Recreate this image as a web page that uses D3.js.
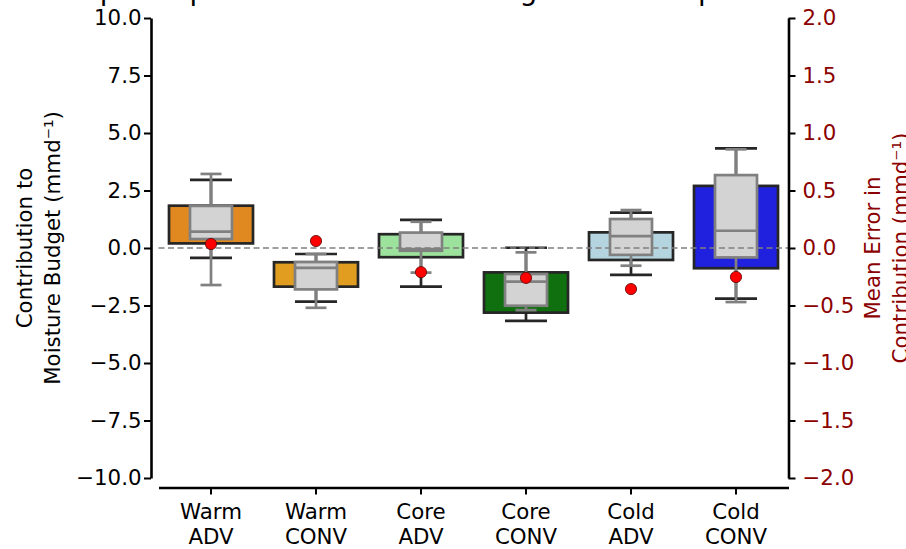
<!DOCTYPE html>
<html>
<head>
<meta charset="utf-8">
<script src="https://cdn.jsdelivr.net/npm/d3@7"></script>
<style>
  html, body { margin: 0; padding: 0; background: #fff; }
  svg { display: block; font-family: "DejaVu Sans", sans-serif; }
</style>
</head>
<body>
<svg id="chart" width="906" height="549"></svg>
<script>
// ---------------- data ----------------
const categories = ["Warm ADV", "Warm CONV", "Core ADV", "Core CONV", "Cold ADV", "Cold CONV"];
const catLine1 = ["Warm", "Warm", "Core", "Core", "Cold", "Cold"];
const catLine2 = ["ADV", "CONV", "ADV", "CONV", "ADV", "CONV"];
const boxColors = ["#DF8920", "#E09D20", "#9CE29C", "#107010", "#B4D4DF", "#2020DF"];

// coloured (wide) boxes
const colQ3      = [1.84, -0.62, 0.60, -1.06, 0.68, 2.70];
const colQ1      = [0.20, -1.68, -0.40, -2.81, -0.52, -0.88];
const colWhiskHi = [2.96, -0.26, 1.22, 0.01, 1.54, 4.33];
const colWhiskLo = [-0.43, -2.33, -1.68, -3.17, -1.17, -2.20];

// grey (narrow) boxes
const greyQ3      = [1.83, -0.61, 0.67, -1.13, 1.26, 3.17];
const greyMed     = [0.71, -0.86, -0.05, -1.46, 0.52, 0.75];
const greyQ1      = [0.39, -1.80, -0.12, -2.51, -0.30, -0.41];
const greyWhiskHi = [3.22, -0.26, 1.14, -0.19, 1.65, 4.29];
const greyWhiskLo = [-1.61, -2.60, -1.07, -2.70, -0.77, -2.35];

// mean error (right axis)
const meanError = [0.035, 0.061, -0.21, -0.26, -0.357, -0.252];

const leftTicks  = [-10, -7.5, -5, -2.5, 0, 2.5, 5, 7.5, 10];
const rightTicks = [-2, -1.5, -1, -0.5, 0, 0.5, 1, 1.5, 2];

const titleText = "Spread per Contribution to Budget and Sample Mean Error";
const yLabelLeft = ["Contribution to", "Moisture Budget (mmd\u207B\u00B9)"];
const yLabelRight = ["Mean Error in", "Contribution (mmd\u207B\u00B9)"];

// ---------------- layout ----------------
const FS = 21.33;
const plotL = 158.5, plotR = 788.5, plotT = 18, plotB = 478;
const svg = d3.select("#chart");

const x = d3.scaleBand().domain(categories).range([plotL, plotR]).padding(0);
const yL = d3.scaleLinear().domain([-10, 10]).range([plotB, plotT]);
const yR = d3.scaleLinear().domain([-2, 2]).range([plotB, plotT]);
const cx = c => x(c) + x.bandwidth() / 2;

const minus = s => s.replace("-", "\u2212");

// title (lies above the visible area; only descenders show, as in the reference)
svg.append("text")
  .attr("x", 82).attr("y", -0.5)
  .attr("font-size", 28)
  .attr("fill", "#000")
  .text(titleText);

// ---------- coloured boxes ----------
const darkEdge = "#262626";
const lw = 2.7;
const gCol = svg.append("g");
categories.forEach((c, i) => {
  const w = x.bandwidth() * 0.8, capW = w / 2;
  const g = gCol.append("g");
  g.append("line").attr("x1", cx(c)).attr("x2", cx(c))
    .attr("y1", yL(colQ3[i])).attr("y2", yL(colWhiskHi[i]))
    .attr("stroke", darkEdge).attr("stroke-width", lw);
  g.append("line").attr("x1", cx(c)).attr("x2", cx(c))
    .attr("y1", yL(colQ1[i])).attr("y2", yL(colWhiskLo[i]))
    .attr("stroke", darkEdge).attr("stroke-width", lw);
  [colWhiskHi[i], colWhiskLo[i]].forEach(v => {
    g.append("line").attr("x1", cx(c) - capW / 2).attr("x2", cx(c) + capW / 2)
      .attr("y1", yL(v)).attr("y2", yL(v))
      .attr("stroke", darkEdge).attr("stroke-width", lw);
  });
  g.append("rect")
    .attr("x", cx(c) - w / 2).attr("width", w)
    .attr("y", yL(colQ3[i])).attr("height", yL(colQ1[i]) - yL(colQ3[i]))
    .attr("fill", boxColors[i]).attr("stroke", darkEdge).attr("stroke-width", lw);
});

// ---------- grey boxes ----------
const greyEdge = "#808080";
const gGrey = svg.append("g");
categories.forEach((c, i) => {
  const w = x.bandwidth() * 0.4, capW = w / 2;
  const g = gGrey.append("g");
  g.append("line").attr("x1", cx(c)).attr("x2", cx(c))
    .attr("y1", yL(greyQ3[i])).attr("y2", yL(greyWhiskHi[i]))
    .attr("stroke", greyEdge).attr("stroke-width", lw);
  g.append("line").attr("x1", cx(c)).attr("x2", cx(c))
    .attr("y1", yL(greyQ1[i])).attr("y2", yL(greyWhiskLo[i]))
    .attr("stroke", greyEdge).attr("stroke-width", lw);
  [greyWhiskHi[i], greyWhiskLo[i]].forEach(v => {
    g.append("line").attr("x1", cx(c) - capW / 2).attr("x2", cx(c) + capW / 2)
      .attr("y1", yL(v)).attr("y2", yL(v))
      .attr("stroke", greyEdge).attr("stroke-width", lw);
  });
  g.append("rect")
    .attr("x", cx(c) - w / 2).attr("width", w)
    .attr("y", yL(greyQ3[i])).attr("height", yL(greyQ1[i]) - yL(greyQ3[i]))
    .attr("fill", "#D3D3D3").attr("stroke", greyEdge).attr("stroke-width", lw);
  g.append("line").attr("x1", cx(c) - w / 2).attr("x2", cx(c) + w / 2)
    .attr("y1", yL(greyMed[i])).attr("y2", yL(greyMed[i]))
    .attr("stroke", greyEdge).attr("stroke-width", lw);
});

// zero reference line
svg.append("line")
  .attr("x1", plotL).attr("x2", plotR)
  .attr("y1", yL(0)).attr("y2", yL(0))
  .attr("stroke", "#808080").attr("stroke-width", 1.6)
  .attr("stroke-dasharray", "6,3.5");

// mean error dots
svg.append("g").selectAll("circle")
  .data(categories)
  .join("circle")
  .attr("cx", d => cx(d))
  .attr("cy", (d, i) => yR(meanError[i]))
  .attr("r", 5.6)
  .attr("fill", "#FF0000")
  .attr("stroke", "#5a0000").attr("stroke-width", 0.8);

// ---------- axes ----------
function styleAxis(g, color) {
  g.select(".domain").attr("stroke", "#000").attr("stroke-width", 2.6);
  g.selectAll(".tick line").attr("stroke", "#000").attr("stroke-width", 2);
  g.selectAll(".tick text").attr("font-size", FS).attr("fill", color)
    .attr("font-family", "DejaVu Sans, sans-serif");
}

const axL = svg.append("g").attr("transform", "translate(151,0)")
  .call(d3.axisLeft(yL).tickValues(leftTicks).tickSize(7).tickSizeOuter(0).tickPadding(2.5)
    .tickFormat(d => minus(d3.format(".1f")(d))));
styleAxis(axL, "#000");

const axR = svg.append("g").attr("transform", `translate(${plotR},0)`)
  .call(d3.axisRight(yR).tickValues(rightTicks).tickSize(7).tickSizeOuter(0).tickPadding(7)
    .tickFormat(d => minus(d3.format(".1f")(d))));
styleAxis(axR, "#8B0000");

const axB = svg.append("g").attr("transform", "translate(0,487.5)")
  .call(d3.axisBottom(x).tickSize(7).tickSizeOuter(0).tickFormat(""));
styleAxis(axB, "#000");
axB.selectAll(".tick").each(function(d, i) {
  const t = d3.select(this).append("text")
    .attr("font-size", FS).attr("fill", "#000").attr("text-anchor", "middle")
    .attr("font-family", "DejaVu Sans, sans-serif");
  t.append("tspan").attr("x", 0).attr("y", 31).text(catLine1[i]);
  t.append("tspan").attr("x", 0).attr("y", 56).text(catLine2[i]);
});

// axis labels
const midY = (plotT + plotB) / 2;
yLabelLeft.forEach((s, k) => {
  svg.append("text")
    .attr("transform", `translate(${32 + 28 * k},${midY}) rotate(-90)`)
    .attr("text-anchor", "middle").attr("font-size", FS).attr("fill", "#000")
    .text(s);
});
yLabelRight.forEach((s, k) => {
  svg.append("text")
    .attr("transform", `translate(${880 + 28 * k},${midY}) rotate(-90)`)
    .attr("text-anchor", "middle").attr("font-size", FS).attr("fill", "#8B0000")
    .text(s);
});
</script>
</body>
</html>
